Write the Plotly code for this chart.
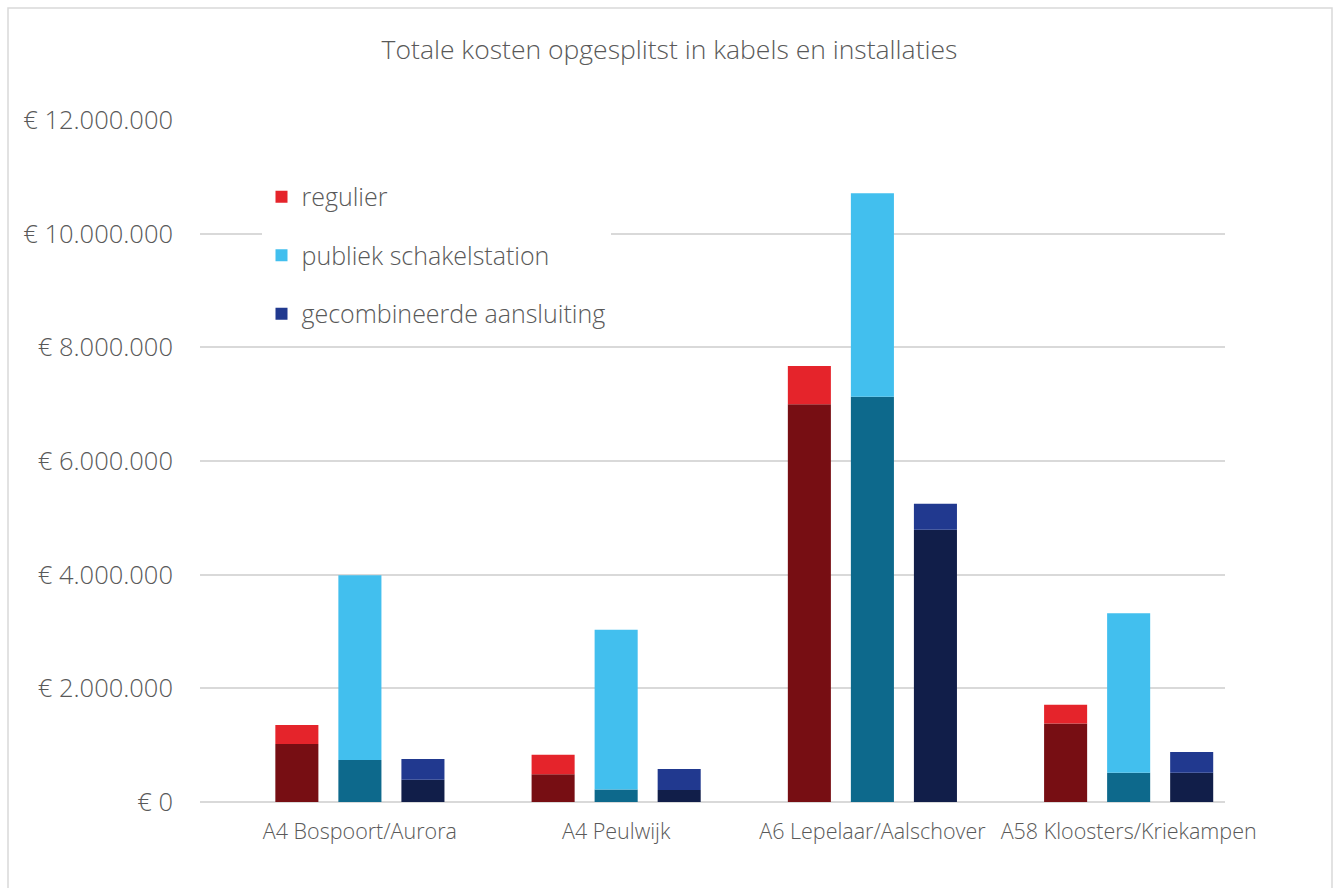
import plotly.graph_objects as go

# Projects on the category axis
projecten = ["A4 Bospoort/Aurora", "A4 Peulwijk", "A6 Lepelaar/Aalschover", "A58 Kloosters/Kriekampen"]

# Costs in euro: cable part (bottom) and installation part (top) per connection variant
regulier_kabels = [1_020_000, 490_000, 7_000_000, 1_380_000]
regulier_install = [335_000, 340_000, 670_000, 330_000]

publiek_kabels = [740_000, 220_000, 7_130_000, 515_000]
publiek_install = [3_250_000, 2_810_000, 3_580_000, 2_805_000]

gecomb_kabels = [390_000, 210_000, 4_790_000, 515_000]
gecomb_install = [365_000, 370_000, 460_000, 365_000]

y_ticks = [0, 2_000_000, 4_000_000, 6_000_000, 8_000_000, 10_000_000, 12_000_000]
y_labels = ["€ 0", "€ 2.000.000", "€ 4.000.000", "€ 6.000.000", "€ 8.000.000", "€ 10.000.000", "€ 12.000.000"]

series = [
    ("regulier", regulier_kabels, regulier_install, "#770E13", "#E5242B"),
    ("publiek schakelstation", publiek_kabels, publiek_install, "#0D698C", "#42BFEE"),
    ("gecombineerde aansluiting", gecomb_kabels, gecomb_install, "#111E49", "#21398F"),
]

FONT = "Open Sans"
GREY = "#595959"

fig = go.Figure()
for i, (name, kabels, install, dark, light) in enumerate(series):
    fig.add_trace(go.Bar(
        x=projecten, y=kabels, offsetgroup=str(i), name=name + " kabels",
        marker=dict(color=dark, line=dict(width=0)), showlegend=False,
    ))
    fig.add_trace(go.Bar(
        x=projecten, y=install, base=kabels, offsetgroup=str(i), name=name,
        legendgroup=name, marker=dict(color=light, line=dict(width=0)), showlegend=True,
    ))

fig.update_layout(
    width=1339, height=888,
    margin=dict(l=200, r=114, t=120, b=86),
    paper_bgcolor="white", plot_bgcolor="white",
    barmode="group", bargap=0.262, bargroupgap=0.317,
    title=dict(
        text="Totale kosten opgesplitst in kabels en installaties",
        x=0.5, xanchor="center", y=0.944, yanchor="middle",
        font=dict(family=FONT, size=26.5, color=GREY, weight=300),
    ),
    legend=dict(
        x=0.06, y=0.921, xanchor="left", yanchor="top",
        bgcolor="white", traceorder="grouped", tracegroupgap=23,
        font=dict(family=FONT, size=25, color=GREY, weight=300),
        itemwidth=30,
    ),
    font=dict(family=FONT, color=GREY),
    showlegend=True,
)

fig.update_yaxes(
    range=[0, 12_000_000], tickvals=y_ticks, ticktext=y_labels,
    showgrid=True, gridcolor="#D9D9D9", gridwidth=1.5,
    zeroline=True, zerolinecolor="#D9D9D9", zerolinewidth=1.5,
    ticklabelstandoff=26,
    tickfont=dict(family=FONT, size=25.5, color=GREY, weight=300),
)
fig.update_xaxes(
    range=[-0.624, 3.376],
    showline=False, ticks="",
    ticklabelstandoff=14,
    tickfont=dict(family=FONT, size=21.5, color=GREY, weight=300),
)

# Thin frame around the whole chart
fig.add_shape(
    type="rect", xref="paper", yref="paper",
    x0=(8 - 200) / 1025, x1=(1332 - 200) / 1025,
    y0=(802 - 895) / 682, y1=(802 - 8) / 682,
    line=dict(color="#D9D9D9", width=1.5), fillcolor="rgba(0,0,0,0)", layer="below",
)

fig.write_html("out.html")
